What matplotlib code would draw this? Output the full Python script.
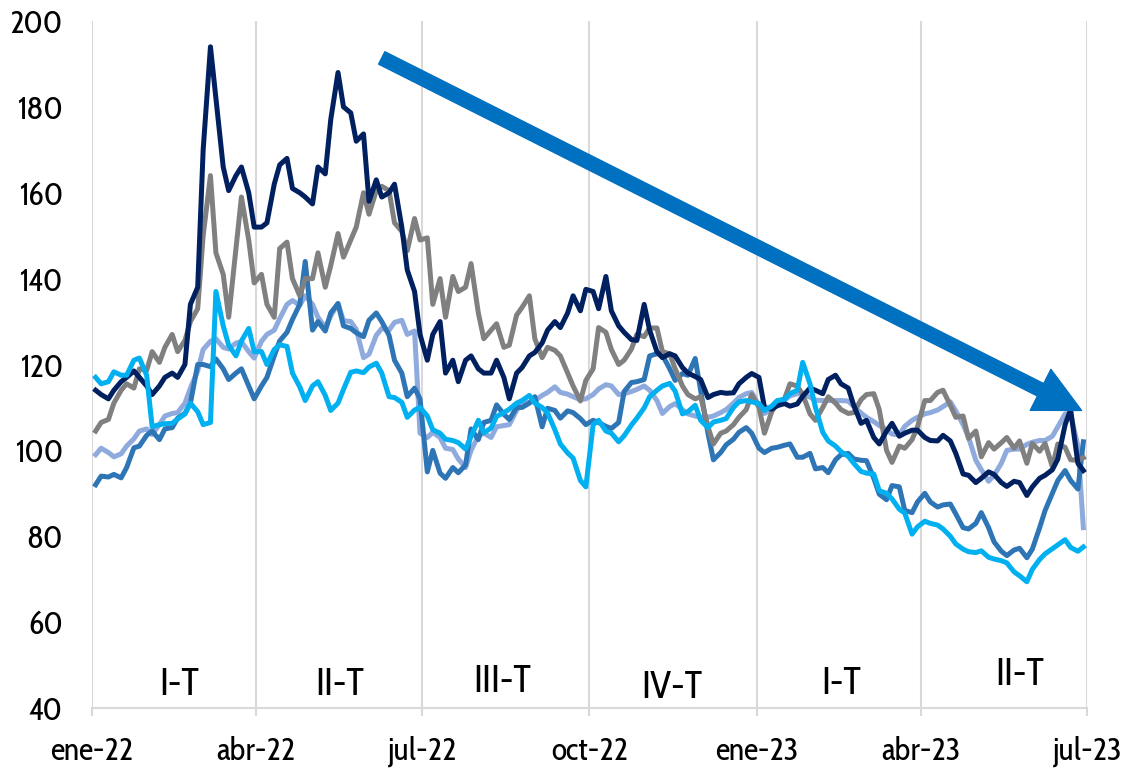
import matplotlib
matplotlib.use("Agg")
import matplotlib.pyplot as plt
import matplotlib.dates as mdates
from matplotlib.patches import FancyArrowPatch
import pandas as pd

# ---------------- data (twice-weekly readings) ----------------
dates = sorted(list(pd.date_range("2022-01-03", "2023-06-26", freq="W-MON")) +
               list(pd.date_range("2022-01-06", "2023-06-29", freq="W-THU")))

navy = [114, 113, 112, 114, 116, 117, 118.5, 117, 115, 113,
        115, 117, 118, 117, 120, 134, 138, 170, 194, 182,
        166, 160.5, 164, 166, 160, 152, 152, 153, 162, 166.5,
        168, 161, 160, 159, 157.4, 166, 164.4, 177, 188, 180,
        178.6, 172, 173.7, 158, 163, 159, 160, 162, 152, 142,
        137, 127, 121, 127, 130, 118, 121, 116, 121, 122,
        119, 118, 118, 121, 117, 112, 118, 119.3, 122, 122.8,
        125, 128, 130, 128.6, 132, 136, 132.5, 137.5, 137, 133,
        140.5, 132.5, 129, 127.5, 125.8, 125.6, 134, 128, 123, 121.6,
        122.5, 122, 119.3, 118, 117.2, 116.5, 112.3, 113, 113.5, 113.3,
        113.4, 115.5, 117, 117.9, 117, 110, 109.6, 110.4, 110.9, 110.3,
        110.8, 112.6, 114.5, 114, 113.2, 116.5, 117.5, 115.5, 114.5, 110.5,
        106.3, 107, 103, 101.5, 104.5, 106.3, 103.3, 104, 104.7, 104.7,
        103, 102.3, 102.2, 103.5, 102.2, 99.3, 94.5, 94.2, 92.5, 93.5,
        95, 94.4, 92.5, 91.6, 92.8, 92.5, 89.5, 91.5, 93.5, 94.2,
        95.5, 98, 106, 109.5, 97, 95.3]

gray = [104.5, 106.5, 107.2, 111, 114, 115.5, 114.5, 119, 118.6, 123,
        120.5, 124, 127, 123, 125.6, 130, 133, 150, 164, 146,
        141, 131, 147, 159, 149, 139, 141, 134, 131, 147,
        148.5, 140, 136, 140, 140, 146, 138, 143, 150.5, 145,
        149, 152, 160, 155, 160.5, 161.5, 160.5, 153, 151, 146.5,
        154, 149, 149.5, 134, 140, 131, 140.5, 137, 138, 143.5,
        132, 126, 128, 129.5, 124, 124.5, 131.5, 133.3, 136, 126,
        121.6, 124, 123.3, 122, 118, 115, 111.5, 116.3, 119, 128.6,
        127.5, 123.5, 120, 121, 123.6, 127, 126.5, 128.5, 128.5, 123,
        122.5, 119, 115, 113, 112, 112.5, 105.5, 101.5, 104, 104.5,
        106, 107.7, 109.5, 113, 110, 104, 109, 111, 112, 115.5,
        115, 113, 108.5, 107, 110, 112.5, 111, 109.5, 108.6, 108.8,
        111.8, 113, 113.2, 109.5, 100, 97.2, 101, 100.5, 102.5, 105.5,
        111.6, 111.6, 113.5, 114, 110.5, 107.7, 108, 102.8, 104.5, 98.5,
        101.8, 100.3, 101.8, 103, 100.5, 102.2, 97, 101.6, 99.8, 101.6,
        96.2, 101.5, 100.7, 97.8, 97.7, 98.3]

mid_blue = [92, 94, 93.8, 94.4, 93.6, 96, 100.6, 101, 103.5, 104.5,
            102.5, 105, 105.3, 107.5, 108.6, 111, 120, 120, 119.5, 121.3,
            119, 116.5, 118, 119, 115, 112, 115, 117, 122, 125.5,
            127.5, 130.5, 134, 144, 128, 130, 127.8, 132, 134.2, 129,
            128.4, 127.4, 126.5, 130.3, 132, 130, 126.8, 121, 118, 112.5,
            114.5, 112, 95, 100, 94.7, 93.5, 96, 94.8, 96.6, 105,
            102.5, 106.5, 107, 110.6, 108.4, 107.2, 110, 110, 111, 112.5,
            105.5, 109.8, 109.3, 107.5, 109.2, 108.8, 107.4, 106, 107, 106.5,
            105.6, 105.1, 106.5, 113.7, 115.8, 116, 116.5, 122, 122.5, 122.2,
            119, 116.3, 117.9, 117.5, 121.4, 114, 104, 97.8, 99.5, 101.3,
            102.6, 104.2, 105.3, 104, 100.5, 99.5, 100.5, 100.7, 101.2, 101.5,
            98.4, 98.4, 99.3, 95.7, 96, 94.8, 97.8, 99, 99.3, 98,
            97.7, 97.6, 93.5, 89.8, 88.5, 91.8, 91.5, 86, 85.5, 88,
            90, 88, 86.8, 87.3, 87.5, 85.2, 82, 81.7, 83, 85.5,
            82, 78.7, 76.5, 75.5, 76.8, 77.2, 75, 77, 82, 86,
            90, 93, 95.3, 93, 91, 102]

light_blue = [99, 100.5, 99.5, 98.5, 99.2, 101, 102.7, 104.5, 105, 103.7,
              106, 108, 108.6, 108.8, 111, 114.5, 118.5, 123.5, 125.4, 126,
              124, 123.6, 125, 125.3, 123, 121.5, 125.4, 127, 128, 130.7,
              134, 134.9, 133.8, 136, 134, 131, 128.6, 131.3, 134.2, 130.2,
              130, 128.2, 121.6, 122.4, 126.8, 128.4, 128, 129.8, 130.3, 127,
              127.8, 104, 103, 104.2, 103, 100.5, 100.2, 98, 96, 100,
              103.4, 104, 103, 105.5, 105.8, 106, 109.3, 110.9, 111.2, 111.6,
              112.8, 113.5, 114.8, 113.5, 113.1, 112.5, 111.8, 112, 113, 114.3,
              115.3, 115, 113, 113.2, 113.7, 114.2, 115, 114, 111.6, 108.6,
              110.2, 110.9, 109.5, 108.5, 108, 107.7, 107.7, 108, 108.8, 109.5,
              111, 112.3, 113.2, 113.5, 110.5, 108.6, 109.5, 110.6, 111.7, 112.7,
              113.2, 113.2, 112.4, 111.7, 111.6, 111.6, 111.6, 111.6, 111.5, 110.2,
              108.7, 107.7, 106.7, 105.8, 104.8, 103.8, 103.6, 105.6, 107, 107.7,
              108.5, 108.8, 109.4, 110.2, 111.3, 109.2, 106, 103, 97.7, 95.5,
              92.8, 94.2, 97, 100, 100.3, 100.3, 101.4, 101.9, 102.3, 102.3,
              103.3, 105.5, 108.5, 108.5, 101, 82]

cyan = [117, 115.5, 116, 118.3, 117.5, 117.5, 121, 121.5, 117.5, 105.5,
        106, 106.2, 106.3, 107.3, 108.5, 111, 109, 106, 106.5, 137,
        129, 124.5, 122, 125.5, 128.4, 123, 123, 120, 123.5, 124.6,
        124.2, 118, 114.8, 111.6, 115, 116, 112.8, 109.3, 111, 114.2,
        118.2, 118.5, 118.1, 119.4, 120.3, 118, 112.5, 112.3, 111.2, 107.7,
        109.4, 110, 108, 104.8, 104, 102.6, 102.3, 101.8, 100.3, 103.2,
        107, 104.1, 105.2, 107.9, 108.8, 109.6, 111, 111.6, 112.8, 111,
        110, 108.7, 104.8, 101.5, 99.4, 98.2, 93, 91.5, 106, 107,
        104.5, 104, 102, 103.4, 105.9, 107.5, 109.9, 112.5, 114, 115,
        115.6, 113.8, 108.5, 109, 110.5, 107, 105.3, 106.6, 107, 107.4,
        110, 111.3, 111.6, 111.3, 110.9, 109.3, 110.3, 111.6, 111.9, 113.2,
        114, 120.5, 115.5, 110, 104.2, 102.2, 101, 99.7, 98.6, 97,
        95.1, 94.7, 94.5, 90.6, 90, 88.7, 86.3, 85.4, 80.5, 82.2,
        83.5, 83, 82.6, 81.7, 80, 78.2, 77, 76.4, 76.2, 76.6,
        75.1, 74.7, 74.3, 73.8, 71.7, 70.8, 69.4, 72.3, 74.6, 75.9,
        77.1, 78, 79.2, 77.4, 76.5, 77.5]

tick_dates = ["2022-01-01", "2022-04-01", "2022-07-01", "2022-10-01",
              "2023-01-01", "2023-04-01", "2023-07-01"]
tick_labels = ["ene-22", "abr-22", "jul-22", "oct-22", "ene-23", "abr-23", "jul-23"]
y_ticks = [40, 60, 80, 100, 120, 140, 160, 180, 200]

quarter_labels = ["I-T", "II-T", "III-T", "IV-T", "I-T", "II-T"]
quarter_pos = [("2022-02-18", 45.3), ("2022-05-17", 45.3), ("2022-08-14", 46.0),
               ("2022-11-15", 44.7), ("2023-02-16", 45.6), ("2023-05-25", 47.7)]

arrow_start = ("2022-06-09", 191.4)
arrow_end = ("2023-06-28", 109.3)

# ---------------- style ----------------
plt.rcParams["font.family"] = ["Cabin Condensed", "Cabin", "Liberation Sans Narrow",
                               "Lato", "DejaVu Sans"]

fig = plt.figure(figsize=(11.27, 7.71), dpi=100)
ax = fig.add_axes([0.08163, 0.08171, 0.88288, 0.89105])

series = [
    (light_blue, "#8FAADC"),
    (mid_blue, "#2E75B6"),
    (gray, "#808080"),
    (navy, "#002060"),
    (cyan, "#00B0F0"),
]
for vals, col in series:
    ax.plot(dates, vals, color=col, linewidth=3.6, solid_joinstyle="round", zorder=3)

ax.set_xlim(pd.Timestamp(tick_dates[0]), pd.Timestamp(tick_dates[-1]))
ax.set_ylim(40, 200)
ax.set_yticks(y_ticks)
ax.set_yticklabels([str(v) for v in y_ticks])
ax.set_xticks([pd.Timestamp(d) for d in tick_dates])
ax.set_xticklabels(tick_labels)

ax.set_axisbelow(True)
ax.xaxis.grid(True, color="#D9D9D9", linewidth=1.5)
ax.yaxis.grid(False)
for s in ["top", "right", "left"]:
    ax.spines[s].set_visible(False)
ax.spines["bottom"].set_color("#D9D9D9")
ax.spines["bottom"].set_linewidth(1.5)

ax.tick_params(axis="x", length=6, width=1.5, color="#D9D9D9", pad=14,
               labelsize=23, labelcolor="black")
ax.tick_params(axis="y", length=0, pad=21, labelsize=23, labelcolor="black")

for lab, (d, y) in zip(quarter_labels, quarter_pos):
    ax.text(pd.Timestamp(d), y, lab, ha="center", va="center", fontsize=27, color="black", zorder=4)

p0 = (mdates.date2num(pd.Timestamp(arrow_start[0])), arrow_start[1])
p1 = (mdates.date2num(pd.Timestamp(arrow_end[0])), arrow_end[1])
arrow = FancyArrowPatch(p0, p1, arrowstyle="simple,head_width=3.3,head_length=3.3,tail_width=1.0",
                        mutation_scale=10, color="#0070C0", shrinkA=0, shrinkB=0, zorder=6)
ax.add_patch(arrow)

fig.savefig("out.png", dpi=100)
